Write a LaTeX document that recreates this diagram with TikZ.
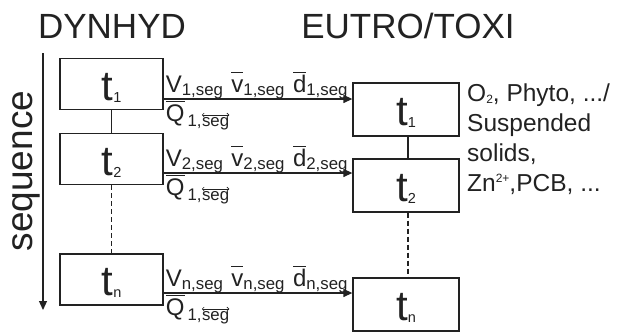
\RequirePackage{fix-cm}
\documentclass[tikz,border=0pt]{standalone}
\usepackage{fontspec}
\setmainfont{Liberation Sans}
\usetikzlibrary{arrows.meta}
\definecolor{ink}{HTML}{222222}
\newcommand{\ovl}[1]{\vbox{\hrule height 1.1pt\kern1.6pt\hbox{\vphantom{Vd}#1}}}
\newcommand{\sbs}[1]{\textsubscript{#1}}
\newcommand{\ovarr}[1]{\tikz[baseline=(w.base),x=1pt,y=1pt]{\node[inner sep=0pt,text=ink](w){#1};\draw[draw=ink,line width=0.6pt,{Straight Barb[length=2pt]}-{Straight Barb[length=2pt]}] ([yshift=2.2pt]w.north west) -- ([yshift=2.2pt]w.north east);}}
\newcommand{\tlab}[1]{{\fontsize{42}{42}\selectfont t}{\fontsize{14.5}{14.5}\selectfont\raisebox{-2pt}{#1}}}
\begin{document}
\begin{tikzpicture}[x=1pt,y=-1pt,
  lbox/.style={draw=ink,line width=1.3pt,minimum width=103pt,minimum height=51pt,inner sep=0pt,text=ink,text height=32pt,text depth=0pt},
  rbox/.style={lbox,minimum width=106pt,minimum height=53pt},
  link/.style={draw=ink,line width=1.3pt},
  dlink/.style={link,dash pattern=on 5pt off 3pt},
  arr/.style={draw=ink,line width=1.3pt,-{Triangle[length=9pt,width=8pt]}},
  title/.style={text=ink,font=\fontsize{35}{35}\selectfont,inner sep=0pt},
  seqst/.style={text=ink,font=\fontsize{37}{37}\selectfont,inner sep=0pt},
  lab/.style={text=ink,font=\fontsize{24}{24}\selectfont,inner sep=0pt},
  rtext/.style={text=ink,font=\fontsize{24.5}{30}\selectfont,inner sep=0pt,align=left}]
\useasboundingbox (0,0) rectangle (622,332);
% titles
\node[title] (dyn) at (112,26) {DYNHYD};
\node[title] (eut) at (408,26) {EUTRO/TOXI};
% sequence
\coordinate (sqtop) at (43,53);
\coordinate (sqbot) at (43,310);
\draw[arr] (sqtop) -- (sqbot);
\node[seqst,rotate=90,anchor=base] (seq) at (32,171) {sequence};
% left boxes
\node[lbox] (l1) at (111.5,84) {\tlab{1}};
\node[lbox] (l2) at (111.5,159) {\tlab{2}};
\node[lbox] (ln) at (111.5,279.5) {\tlab{n}};
% right boxes
\node[rbox] (r1) at (406,109.5) {\tlab{1}};
\node[rbox] (r2) at (406,185.5) {\tlab{2}};
\node[rbox] (rn) at (406,304.5) {\tlab{n}};
% vertical links
\draw[link] (l1) -- (l2);
\draw[dlink] (l2) -- (ln);
\draw[link] (r1.south -| 408,0) -- (r2.north -| 408,0);
\draw[dlink] (r2.south -| 408,0) -- (rn.north -| 408,0);
% arrows
\draw[arr] ([yshift=-15pt]l1.east) coordinate (s1) -- (s1 -| r1.west);
\draw[arr] ([yshift=-14pt]l2.east) coordinate (s2) -- (s2 -| r2.west);
\draw[arr] ([yshift=-13.5pt]ln.east) coordinate (sn) -- (sn -| rn.west);
% labels
\node[lab,anchor=base west] (a1) at ([shift={(2,-7)}]s1) {V\sbs{1,seg}\hspace{8pt}\ovl{v}\sbs{1,seg}\hspace{8pt}\ovl{d}\sbs{1,seg}};
\node[lab,anchor=base west] (b1) at ([shift={(2,22)}]s1) {\ovl{Q}\hspace{3pt}\sbs{1,\ovarr{seg}}};
\node[lab,anchor=base west] (a2) at ([shift={(2,-7)}]s2) {V\sbs{2,seg}\hspace{8pt}\ovl{v}\sbs{2,seg}\hspace{8pt}\ovl{d}\sbs{2,seg}};
\node[lab,anchor=base west] (b2) at ([shift={(2,22)}]s2) {\ovl{Q}\hspace{3pt}\sbs{1,\ovarr{seg}}};
\node[lab,anchor=base west] (an) at ([shift={(2,-7)}]sn) {V\sbs{n,seg}\hspace{8pt}\ovl{v}\sbs{n,seg}\hspace{8pt}\ovl{d}\sbs{n,seg}};
\node[lab,anchor=base west] (bn) at ([shift={(2,22)}]sn) {\ovl{Q}\hspace{3pt}\sbs{1,\ovarr{seg}}};
% right text
\node[rtext,anchor=north west] (sub) at (467,84) {O{\fontsize{12}{12}\selectfont\raisebox{-2pt}{2}}, Phyto, .../\\Suspended\\solids,\\Zn{\fontsize{12}{12}\selectfont\raisebox{9pt}{2+}},PCB, ...};
\end{tikzpicture}
\end{document}
